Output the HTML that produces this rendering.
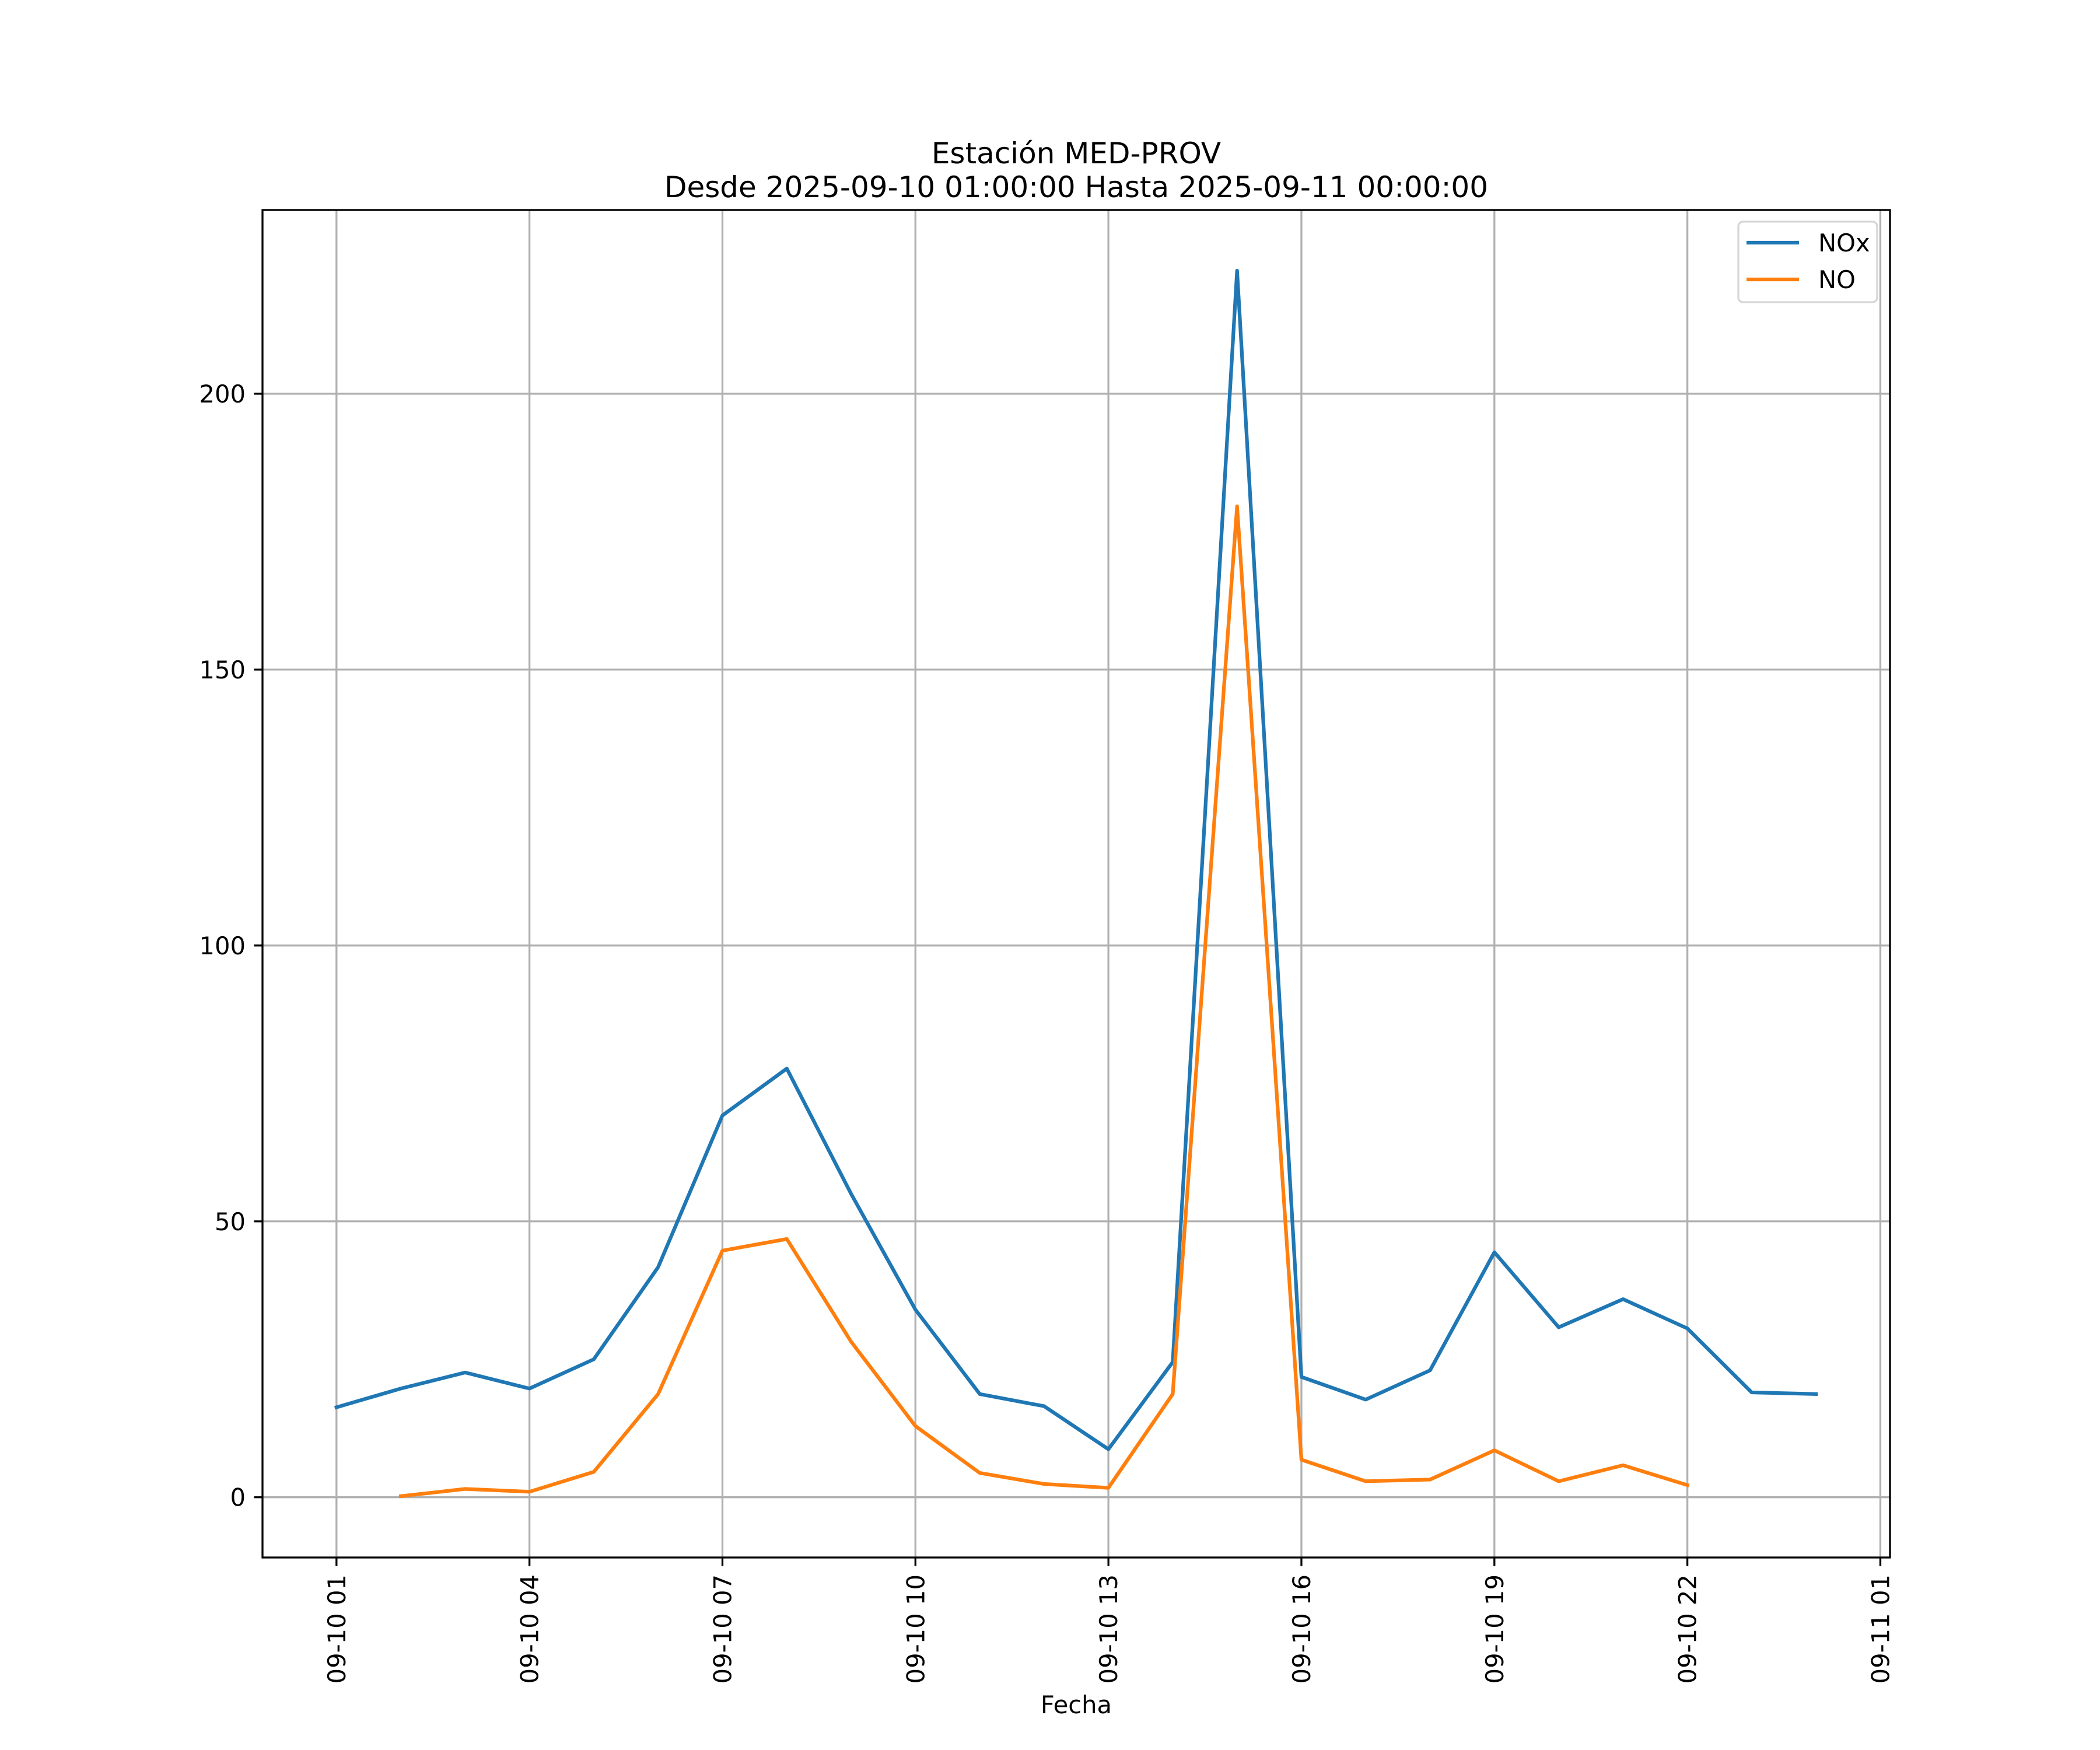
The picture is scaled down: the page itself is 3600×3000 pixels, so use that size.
<!DOCTYPE html>
<html><head><meta charset="utf-8"><style>
html,body{margin:0;padding:0;background:#fff}
svg{display:block;font-family:"DejaVu Sans","Liberation Sans",sans-serif}
</style></head><body>
<svg id="chart" width="3600" height="3000" viewBox="0 0 3600 3000" xmlns="http://www.w3.org/2000/svg">
<rect width="3600" height="3000" fill="#fff"/>
<text x="1845" y="280" font-size="50" text-anchor="middle">Estación MED-PROV</text>
<text x="1845" y="338" font-size="50" text-anchor="middle">Desde 2025-09-10 01:00:00 Hasta 2025-09-11 00:00:00</text>
<g id="grid"></g>
<g id="series"></g>
<rect x="450" y="360" width="2790" height="2310" fill="none" stroke="#000" stroke-width="3.3"/>
<g id="ticks"></g>
<text x="1845" y="2937" font-size="41.7" text-anchor="middle">Fecha</text>
<g>
<rect x="2980" y="380" width="238" height="138" rx="8" fill="#fff" fill-opacity="0.8" stroke="#d6d6d6" stroke-width="3.3"/>
<line x1="2994" y1="416" x2="3084" y2="416" stroke="#1f77b4" stroke-width="6.25"/>
<text x="3117" y="431" font-size="41.7">NOx</text>
<line x1="2994" y1="479" x2="3084" y2="479" stroke="#ff7f0e" stroke-width="6.25"/>
<text x="3117" y="494" font-size="41.7">NO</text>
</g>
</svg>
<script>
const hours = [0,1,2,3,4,5,6,7,8,9,10,11,12,13,14,15,16,17,18,19,20,21,22,23];
const noxValues = [16.3,19.7,22.6,19.7,25,41.7,69.2,77.7,55,34,18.7,16.5,8.7,24.5,222.3,21.8,17.7,23,44.4,30.8,35.9,30.6,19,18.7];
const noHours = [1,2,3,4,5,6,7,8,9,10,11,12,13,14,15,16,17,18,19,20,21];
const noValues = [0.2,1.5,1,4.6,18.7,44.7,46.8,28.2,12.9,4.4,2.4,1.7,18.7,179.6,6.8,2.9,3.2,8.5,2.9,5.8,2.2];
const yTicks = [0,50,100,150,200];
const xTickHours = [0,3,6,9,12,15,18,21,24];
const xTickLabels = ["09-10 01","09-10 04","09-10 07","09-10 10","09-10 13","09-10 16","09-10 19","09-10 22","09-11 01"];

const L=450,R=3240,T=360,B=2670;
const xmin=-1.15,xmax=24.15,ymin=-10.92,ymax=233.3;
const xs=h=>L+(h-xmin)/(xmax-xmin)*(R-L);
const ys=v=>B-(v-ymin)/(ymax-ymin)*(B-T);
const NS="http://www.w3.org/2000/svg";
function mk(tag,attrs,parent){const e=document.createElementNS(NS,tag);for(const k in attrs)e.setAttribute(k,attrs[k]);parent.appendChild(e);return e;}
const grid=document.getElementById('grid'),ticks=document.getElementById('ticks'),series=document.getElementById('series');

xTickHours.forEach((h,i)=>{
  const x=xs(h);
  const g=mk('line',{x1:x,x2:x,y1:T,y2:B,stroke:'#b0b0b0','stroke-width':3.3},grid);
  
  
  const t=mk('line',{x1:x,x2:x,y1:B,y2:B+14.6,stroke:'#000','stroke-width':3.3},ticks);
  
  
  const lb=mk('text',{transform:`translate(${x+15},${B+29}) rotate(-90)`,'font-size':41.7,'text-anchor':'end'},ticks);
  lb.textContent=xTickLabels[i];
  
  
});
yTicks.forEach(v=>{
  const y=ys(v);
  const g=mk('line',{x1:L,x2:R,y1:y,y2:y,stroke:'#b0b0b0','stroke-width':3.3},grid);
  
  
  const t=mk('line',{x1:L-14.6,x2:L,y1:y,y2:y,stroke:'#000','stroke-width':3.3},ticks);
  
  
  const lb=mk('text',{x:L-29,y:y+15,'font-size':41.7,'text-anchor':'end'},ticks);
  lb.textContent=String(v);
  
  
});
function line(hs,vs,color,name){
  const p=hs.map((h,i)=>xs(h).toFixed(1)+','+ys(vs[i]).toFixed(1)).join(' ');
  const pl=mk('polyline',{points:p,fill:'none',stroke:color,'stroke-width':6.25,'stroke-linejoin':'round','stroke-linecap':'square'},series);
  
  
}
line(hours,noxValues,'#1f77b4','nox-line');
line(noHours,noValues,'#ff7f0e','no-line');
</script>
</body></html>
